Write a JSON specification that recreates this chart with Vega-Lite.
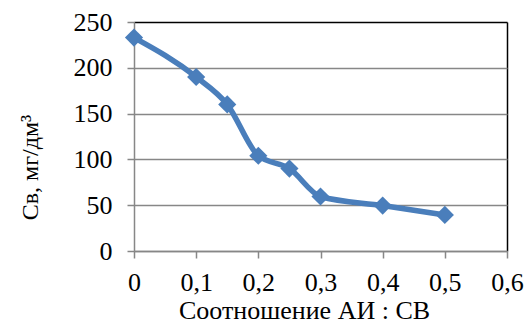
{
  "$schema": "https://vega.github.io/schema/vega-lite/v6.json",
  "width": 373,
  "height": 229,
  "autosize": "none",
  "padding": {"left": 134, "top": 22, "right": 19, "bottom": 81},
  "background": "white",
  "config": {
    "view": {"stroke": null},
    "font": "Liberation Serif"
  },
  "data": {
    "values": [
      {"x": 0, "y": 233},
      {"x": 0.1, "y": 190},
      {"x": 0.15, "y": 160},
      {"x": 0.2, "y": 104},
      {"x": 0.25, "y": 90},
      {"x": 0.3, "y": 59.5},
      {"x": 0.4, "y": 49.6},
      {"x": 0.5, "y": 39.4}
    ]
  },
  "encoding": {
    "x": {
      "field": "x",
      "type": "quantitative",
      "scale": {"domain": [0, 0.6], "nice": false, "zero": true},
      "axis": {
        "values": [0, 0.1, 0.2, 0.3, 0.4, 0.5, 0.6],
        "labelExpr": "datum.value === 0 ? '0' : replace(format(datum.value, '.1f'), '.', ',')",
        "title": "Соотношение АИ : СВ",
        "labelFont": "Liberation Serif",
        "titleFont": "Liberation Serif",
        "labelFontSize": 26,
        "titleFontSize": 26,
        "labelColor": "black",
        "titleColor": "black",
        "titleFontWeight": "normal",
        "domainColor": "#878787",
        "domainWidth": 1.5,
        "tickColor": "#878787",
        "tickWidth": 1.5,
        "tickSize": 7,
        "labelPadding": 11,
        "titlePadding": 2,
        "titleX": 170,
        "grid": true,
        "gridWidth": 1.5,
        "gridColor": "black",
        "gridOpacity": {"condition": {"test": "datum.value === 0.6", "value": 1}, "value": 0},
        "labelFlush": false
      }
    },
    "y": {
      "field": "y",
      "type": "quantitative",
      "scale": {"domain": [0, 250], "nice": false},
      "axis": {
        "values": [0, 50, 100, 150, 200, 250],
        "title": "Cв, мг/дм³",
        "labelFont": "Liberation Serif",
        "titleFont": "Liberation Serif",
        "labelFontSize": 26,
        "titleFontSize": 24,
        "labelColor": "black",
        "titleColor": "black",
        "titleFontWeight": "normal",
        "domainColor": "#878787",
        "domainWidth": 1.5,
        "tickColor": "#878787",
        "tickWidth": 1.5,
        "tickSize": 7,
        "labelPadding": 15,
        "titleX": -104,
        "titleY": 145,
        "titleAlign": "center",
        "titleBaseline": "middle",
        "titleAngle": -90,
        "grid": true,
        "gridWidth": 1.3,
        "gridColor": {"condition": {"test": "datum.value === 250", "value": "black"}, "value": "#878787"}
      }
    }
  },
  "layer": [
    {
      "mark": {"type": "line", "interpolate": "monotone", "color": "#4A7EBB", "strokeWidth": 5.5}
    },
    {
      "mark": {"type": "point", "shape": "diamond", "filled": true, "size": 330, "color": "#4A7EBB", "opacity": 1}
    }
  ]
}
